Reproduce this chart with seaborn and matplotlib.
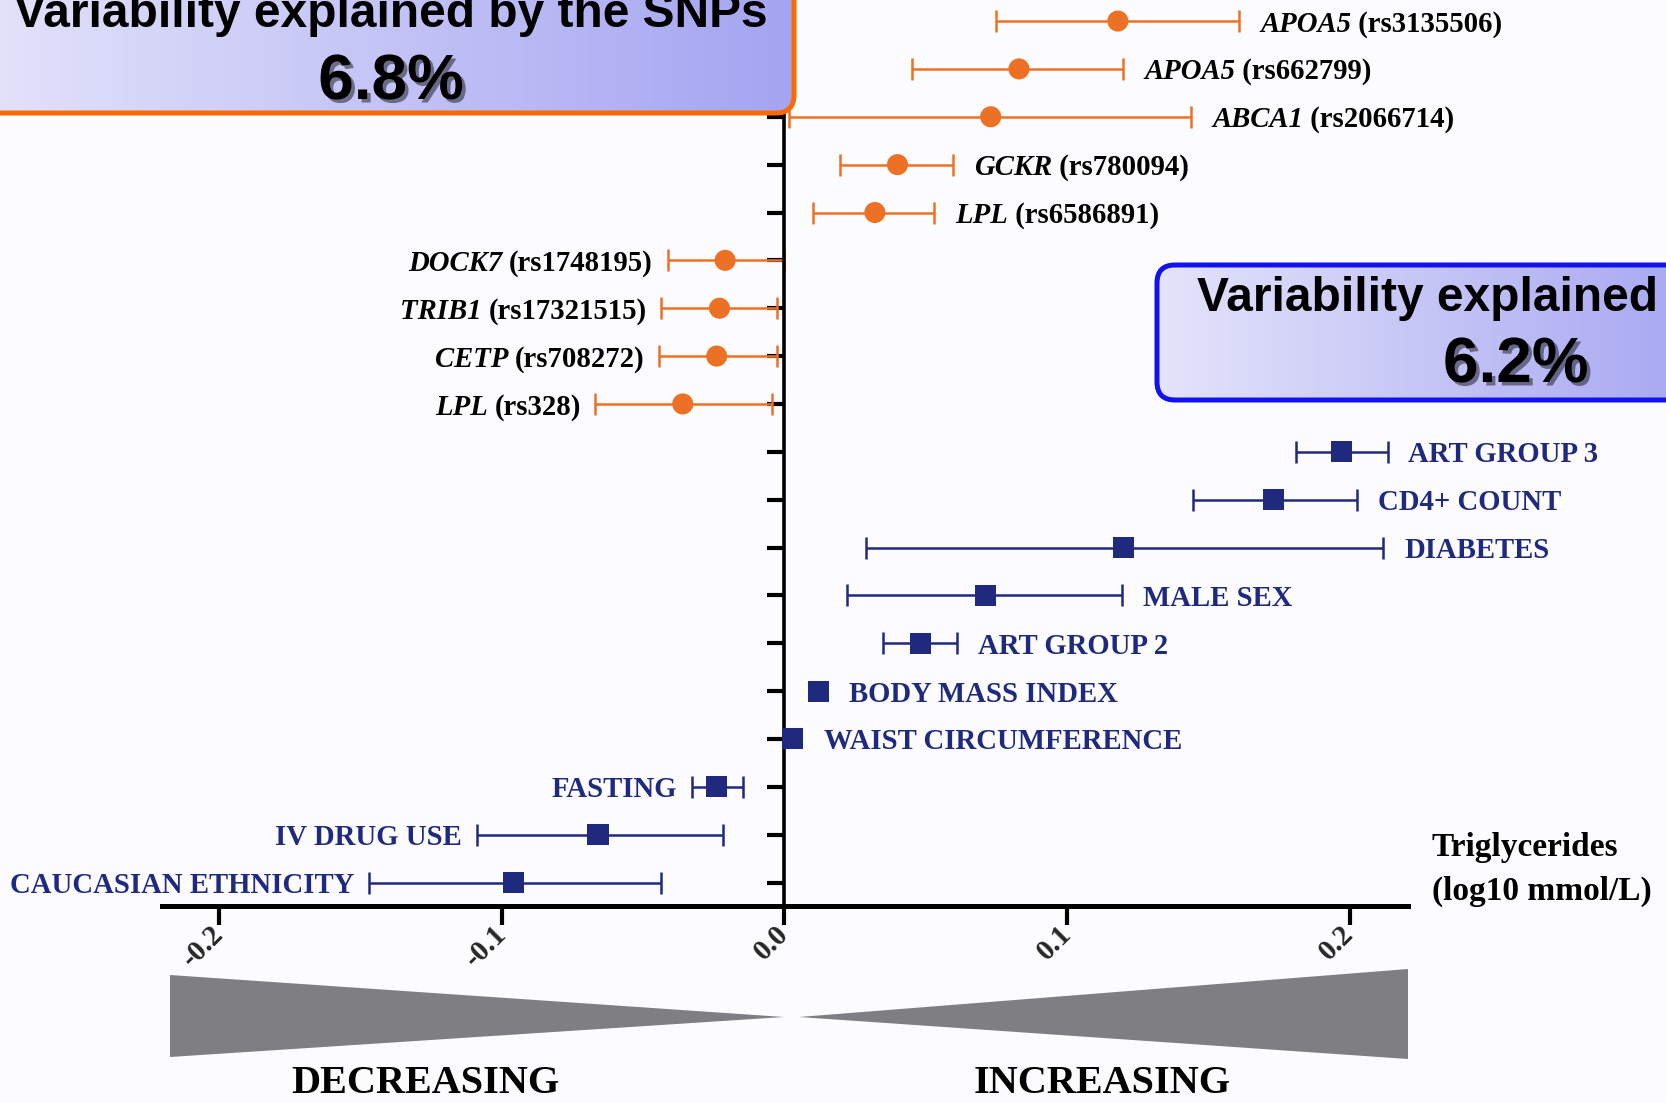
import numpy as np
import pandas as pd
import matplotlib
matplotlib.use("Agg")
import matplotlib.pyplot as plt
import seaborn as sns
from matplotlib.patches import FancyBboxPatch, Polygon
from matplotlib.colors import LinearSegmentedColormap
import matplotlib.patheffects as pe

# ---------------- data ----------------
genes = ["APOA5", "APOA5", "ABCA1", "GCKR", "LPL", "DOCK7", "TRIB1", "CETP", "LPL",
         "", "", "", "", "", "", "", "", "", ""]
names = ["(rs3135506)", "(rs662799)", "(rs2066714)", "(rs780094)", "(rs6586891)",
         "(rs1748195)", "(rs17321515)", "(rs708272)", "(rs328)",
         "ART GROUP 3", "CD4+ COUNT", "DIABETES", "MALE SEX", "ART GROUP 2",
         "BODY MASS INDEX", "WAIST CIRCUMFERENCE", "FASTING", "IV DRUG USE", "CAUCASIAN ETHNICITY"]
groups = ["SNP"] * 9 + ["Covariate"] * 10
estimates = [0.118, 0.083, 0.073, 0.040, 0.032, -0.021, -0.023, -0.024, -0.036,
             0.197, 0.173, 0.120, 0.071, 0.048, 0.012, 0.003, -0.024, -0.066, -0.096]
ci_low = [0.075, 0.045, 0.0015, 0.0195, 0.010, -0.0414, -0.0436, -0.0444, -0.0669,
          0.181, 0.1447, 0.029, 0.022, 0.035, 0.012, 0.003, -0.0327, -0.109, -0.147]
ci_high = [0.161, 0.120, 0.144, 0.0598, 0.053, 0.0, -0.0026, -0.0026, -0.0045,
           0.2135, 0.2026, 0.212, 0.1195, 0.061, 0.012, 0.003, -0.0147, -0.0218, -0.0436]
x_ticks = [-0.2, -0.1, 0.0, 0.1, 0.2]
x_ticklabels = ["-0.2", "-0.1", "0.0", "0.1", "0.2"]

df = pd.DataFrame({"gene": genes, "name": names, "group": groups, "est": estimates,
                   "lo": ci_low, "hi": ci_high})
df["row"] = np.arange(len(df))

ORANGE = "#EC7125"
NAVY = "#1F2A7F"
BG = "#FCFCFE"

W, H = 1666, 1103
sns.set_style("white")
plt.rcParams["font.family"] = ["Liberation Serif", "DejaVu Serif"]

fig = plt.figure(figsize=(W / 100, H / 100), dpi=100, facecolor=BG)
ax = fig.add_axes([161.5 / W, 1 - 906 / H, (1408 - 161.5) / W, 906 / H])
ax.set_facecolor("none")

# error bars
for grp, col in [("SNP", ORANGE), ("Covariate", NAVY)]:
    sub = df[(df.group == grp) & (df.hi - df.lo > 1e-6)]
    ax.errorbar(sub.est, sub.row, xerr=[sub.est - sub.lo, sub.hi - sub.est],
                fmt="none", ecolor=col, elinewidth=1.8, capsize=8, capthick=1.8, zorder=2)

sns.scatterplot(data=df, x="est", y="row", hue="group", style="group",
                palette={"SNP": ORANGE, "Covariate": NAVY},
                markers={"SNP": "o", "Covariate": "s"},
                s=230, linewidth=0, legend=False, ax=ax, zorder=3)

ax.set_xlim(-0.2205, 0.2207)
ax.set_ylim(18.49, -0.44)
ax.set_xlabel("")
ax.set_ylabel("")

# spines
for s in ["top", "right"]:
    ax.spines[s].set_visible(False)
ax.spines["left"].set_position(("data", 0))
ax.spines["left"].set_linewidth(2.6)
ax.spines["bottom"].set_linewidth(3.6)
ax.spines["left"].set_color("black")
ax.spines["bottom"].set_color("black")
ax.set_yticks(df.row)
ax.set_yticklabels([])
ax.tick_params(axis="y", direction="out", length=12, width=3, color="black", left=True)
ax.set_xticks(x_ticks)
ax.set_xticklabels(x_ticklabels, rotation=45, ha="right", va="center",
                   rotation_mode="anchor", fontsize=21, fontweight="bold")
ax.tick_params(axis="x", direction="out", length=14, width=3, color="black",
               bottom=True, pad=3)

# row labels
FS = 20.7
for _, r in df.iterrows():
    col = "black" if r.group == "SNP" else NAVY
    if r.est >= 0:
        x = max(r.hi, r.est + 0.0035)
        if r.gene:
            t1 = ax.annotate(r.gene, (x, r.row), xytext=(15, 0), textcoords="offset points",
                             ha="left", va="center_baseline", fontsize=FS, fontweight="bold",
                             fontstyle="italic", color=col)
            ax.annotate(" " + r["name"], (1, 0), xycoords=t1, ha="left", va="bottom",
                        fontsize=FS, fontweight="bold", color=col)
        else:
            ax.annotate(r["name"], (x, r.row), xytext=(15, 0), textcoords="offset points",
                        ha="left", va="center_baseline", fontsize=FS, fontweight="bold", color=col)
    else:
        t2 = ax.annotate(r["name"], (r.lo, r.row), xytext=(-10.5, 0), textcoords="offset points",
                         ha="right", va="center_baseline", fontsize=FS, fontweight="bold", color=col)
        if r.gene:
            ax.annotate(r.gene + " ", (0, 0), xycoords=t2, ha="right", va="bottom",
                        fontsize=FS, fontweight="bold", fontstyle="italic", color=col)

# ---------------- overlay (pixel coordinates) ----------------
ov = fig.add_axes([0, 0, 1, 1])
ov.set_xlim(0, W)
ov.set_ylim(H, 0)
ov.axis("off")
ov.patch.set_visible(False)

ov.text(1432, 856, "Triglycerides", ha="left", va="baseline", fontsize=24,
        fontweight="bold", color="black")
ov.text(1432, 900, "(log10 mmol/L)", ha="left", va="baseline", fontsize=24,
        fontweight="bold", color="black")

# triangles
ov.add_patch(Polygon([[170, 975], [170, 1057], [784, 1017]], closed=True,
                     facecolor="#7F7E83", edgecolor="none"))
ov.add_patch(Polygon([[799, 1017], [1408, 969], [1408, 1059]], closed=True,
                     facecolor="#7F7E83", edgecolor="none"))
ov.text(425, 1093, "DECREASING", ha="center", va="baseline", fontsize=29,
        fontweight="bold", color="black")
ov.text(1102, 1093, "INCREASING", ha="center", va="baseline", fontsize=29,
        fontweight="bold", color="black")

grad = np.linspace(0, 1, 256).reshape(1, -1)
cmap = LinearSegmentedColormap.from_list("g", ["#E4E4FB", "#A4A4F2"])


def gradient_box(x0, y0, x1, y1, edge, rad=18):
    patch = FancyBboxPatch((x0, y0), x1 - x0, y1 - y0,
                           boxstyle=f"round,pad=0,rounding_size={rad}",
                           facecolor="none", edgecolor=edge, linewidth=3.6, zorder=5)
    ov.add_patch(patch)
    im = ov.imshow(grad, extent=(x0, x1, y1, y0), cmap=cmap, aspect="auto", zorder=4)
    im.set_clip_path(patch)
    ov.set_xlim(0, W)
    ov.set_ylim(H, 0)


gradient_box(-30, -40, 794, 113, "#FF6A00")
gradient_box(1157, 265, 1720, 400, "#1212F0")

shadow = [pe.withSimplePatchShadow(offset=(2.5, -2.5), shadow_rgbFace="black", alpha=0.45)]
sans = ["Liberation Sans", "DejaVu Sans"]
ov.text(391, 27, "Variability explained by the SNPs", ha="center", va="baseline",
        fontsize=34.5, fontweight="bold", family=sans, color="black", zorder=6)
ov.text(391, 99, "6.8%", ha="center", va="baseline", fontsize=46, fontweight="bold",
        family=sans, color="black", zorder=6, path_effects=shadow)
ov.text(1197, 311, "Variability explained", ha="left", va="baseline",
        fontsize=34.5, fontweight="bold", family=sans, color="black", zorder=6)
ov.text(1443, 382, "6.2%", ha="left", va="baseline", fontsize=46, fontweight="bold",
        family=sans, color="black", zorder=6, path_effects=shadow)

fig.savefig("out.png", dpi=100, facecolor=BG)
